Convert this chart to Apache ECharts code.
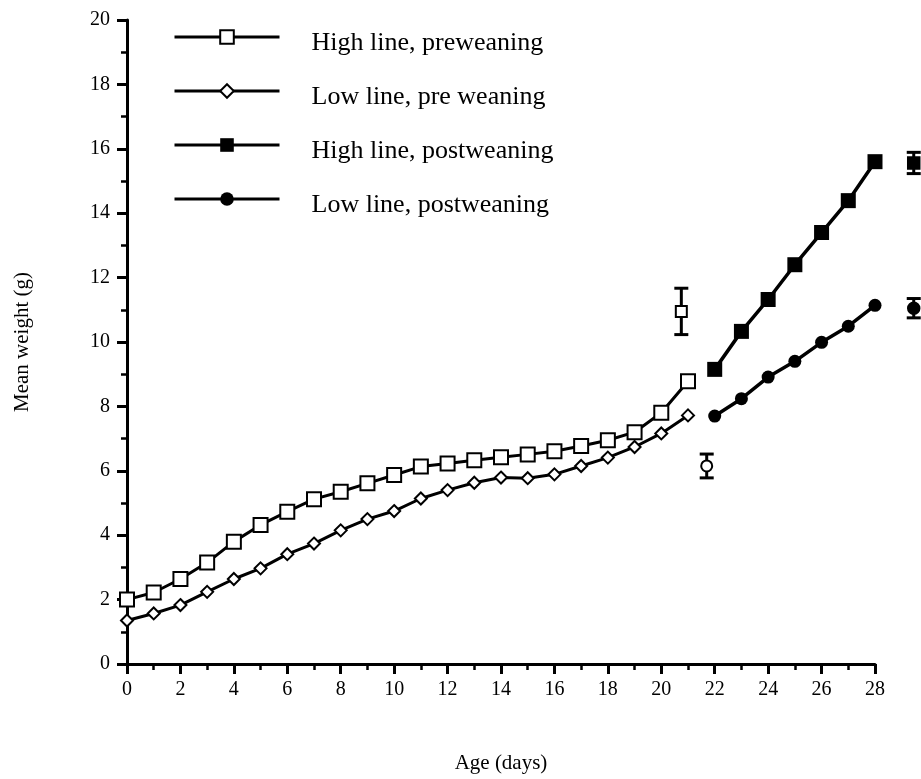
<!DOCTYPE html>
<html lang="en">
<head>
    <meta charset="UTF-8">
    <title>Mean weight</title>
    <script src="https://cdn.jsdelivr.net/npm/echarts@6/dist/echarts.min.js"></script>
    <style>
        body { margin: 0; background: #fff; }
    </style>
</head>
<body>
<div id="main" style="width: 921px;height:779px;"></div>
<script>
    // days
    var preDays = [0, 1, 2, 3, 4, 5, 6, 7, 8, 9, 10, 11, 12, 13, 14, 15, 16, 17, 18, 19, 20, 21];
    var postDays = [22, 23, 24, 25, 26, 27, 28];

    // mean weights (g)
    var highPre = [2.0, 2.22, 2.64, 3.15, 3.80, 4.32, 4.73, 5.12, 5.35, 5.61, 5.87, 6.13, 6.23, 6.33, 6.42, 6.51, 6.61, 6.77, 6.95, 7.20, 7.80, 8.78];
    var lowPre = [1.35, 1.57, 1.83, 2.24, 2.64, 2.97, 3.41, 3.74, 4.15, 4.50, 4.75, 5.14, 5.40, 5.63, 5.79, 5.77, 5.89, 6.15, 6.41, 6.74, 7.16, 7.72];
    var highPost = [9.15, 10.33, 11.32, 12.40, 13.40, 14.39, 15.6];
    var lowPost = [7.70, 8.24, 8.91, 9.40, 9.99, 10.49, 11.14];

    // separate points with error bars
    var errDays = [20.75, 21.7, 29.45, 29.45];
    var errMeans = [10.95, 6.15, 15.56, 11.05];
    var errSE = [0.72, 0.37, 0.33, 0.3];
    var errSymbols = ['emptyRect', 'emptyCircle', 'rect', 'circle'];

    var names = ['High line, preweaning', 'Low line, pre weaning', 'High line, postweaning', 'Low line, postweaning'];

    function pairs(xs, ys) {
        return xs.map(function (x, i) { return [x, ys[i]]; });
    }

    var font = 'Liberation Serif';
    var myChart = echarts.init(document.getElementById('main'));

    var option = {
        animation: false,
        backgroundColor: '#fff',
        textStyle: { fontFamily: font, color: '#000' },
        grid: { left: 127, right: 46, top: 20, bottom: 114 },
        legend: {
            data: names,
            orient: 'vertical',
            left: 173,
            top: 18,
            padding: 0,
            itemWidth: 105,
            itemHeight: 17,
            itemGap: 16,
            lineStyle: { width: 3 },
            formatter: function (name) { return '{t|' + name + '}'; },
            textStyle: {
                fontFamily: font, fontSize: 26, color: '#000',
                rich: { t: { fontFamily: font, fontSize: 26, color: '#000', padding: [12, 0, 0, 27], lineHeight: 26 } }
            }
        },
        xAxis: {
            type: 'value',
            min: 0, max: 28, interval: 2,
            name: 'Age (days)',
            nameLocation: 'middle',
            nameGap: 89,
            nameTextStyle: { fontFamily: font, fontSize: 21, color: '#000' },
            axisLine: { lineStyle: { color: '#000', width: 3 } },
            axisTick: { length: 10, lineStyle: { color: '#000', width: 3 } },
            minorTick: { show: true, splitNumber: 2, length: 6, lineStyle: { color: '#000', width: 2.5 } },
            axisLabel: { fontFamily: font, fontSize: 20, color: '#000', margin: 16 },
            splitLine: { show: false }
        },
        yAxis: {
            type: 'value',
            min: 0, max: 20, interval: 2,
            name: 'Mean weight (g)',
            nameLocation: 'middle',
            nameGap: 94,
            nameRotate: 90,
            nameTextStyle: { fontFamily: font, fontSize: 21, color: '#000' },
            axisLine: { lineStyle: { color: '#000', width: 3 } },
            axisTick: { length: 10, lineStyle: { color: '#000', width: 3 } },
            minorTick: { show: true, splitNumber: 2, length: 6, lineStyle: { color: '#000', width: 2.5 } },
            axisLabel: { fontFamily: font, fontSize: 20, color: '#000', margin: 17 },
            splitLine: { show: false }
        },
        series: [
            {
                name: names[0], type: 'line', data: pairs(preDays, highPre),
                symbol: 'emptyRect', symbolSize: 14,
                lineStyle: { color: '#000', width: 3 },
                itemStyle: { color: '#000', borderColor: '#000', borderWidth: 2.5 }
            },
            {
                name: names[1], type: 'line', data: pairs(preDays, lowPre),
                symbol: 'emptyDiamond', symbolSize: 12,
                lineStyle: { color: '#000', width: 3 },
                itemStyle: { color: '#000', borderColor: '#000', borderWidth: 3 }
            },
            {
                name: names[2], type: 'line', data: pairs(postDays, highPost),
                symbol: 'rect', symbolSize: 15,
                lineStyle: { color: '#000', width: 3.5 },
                itemStyle: { color: '#000' }
            },
            {
                name: names[3], type: 'line', data: pairs(postDays, lowPost),
                symbol: 'circle', symbolSize: 13, clip: false,
                lineStyle: { color: '#000', width: 3.5 },
                itemStyle: { color: '#000' }
            },
            {
                type: 'custom',
                clip: false,
                data: errDays.map(function (d, i) { return [d, errMeans[i], errSE[i]]; }),
                renderItem: function (params, api) {
                    var x = api.value(0), m = api.value(1), s = api.value(2);
                    var top = api.coord([x, m + s]);
                    var bot = api.coord([x, m - s]);
                    var style = { stroke: '#000', lineWidth: 3 };
                    var w = 7;
                    return {
                        type: 'group',
                        children: [
                            { type: 'line', shape: { x1: top[0], y1: top[1], x2: bot[0], y2: bot[1] }, style: style },
                            { type: 'line', shape: { x1: top[0] - w, y1: top[1], x2: top[0] + w, y2: top[1] }, style: style },
                            { type: 'line', shape: { x1: bot[0] - w, y1: bot[1], x2: bot[0] + w, y2: bot[1] }, style: style }
                        ]
                    };
                },
                z: 3
            },
            {
                type: 'scatter',
                clip: false,
                data: errDays.map(function (d, i) {
                    return { value: [d, errMeans[i]], symbol: errSymbols[i] };
                }),
                symbolSize: 11,
                itemStyle: { color: '#000', borderColor: '#000', borderWidth: 2.5, opacity: 1 },
                z: 4
            }
        ]
    };

    myChart.setOption(option);
</script>
</body>
</html>
